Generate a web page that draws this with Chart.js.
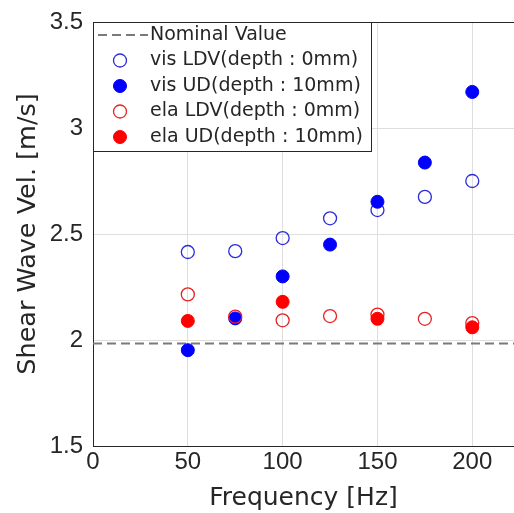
<!DOCTYPE html>
<html>
<head>
<meta charset="utf-8">
<script src="https://cdn.jsdelivr.net/npm/chart.js@4.4.0/dist/chart.umd.min.js"></script>
<style>
  html, body { margin: 0; padding: 0; background: #fff; overflow: hidden; }
  #caixa { width: 514px; height: 513px; position: relative; }
</style>
</head>
<body>
<div id="caixa"><canvas id="graficoOnda"></canvas></div>
<script>
// dados
const frequencias = [50, 75, 100, 125, 150, 175, 200];
const visLDV = [2.415, 2.419, 2.481, 2.574, 2.613, 2.675, 2.75];
const visUD = [1.952, 2.102, 2.30, 2.45, 2.652, 2.837, 3.17];
const elaLDV = [2.215, 2.11, 2.093, 2.113, 2.12, 2.10, 2.08];
const frequenciasElaUD = [50, 100, 150, 200];
const elaUD = [2.09, 2.18, 2.10, 2.06];
const valorNominal = 1.984;

const xTicks = [0, 50, 100, 150, 200];
const yTicks = [1.5, 2, 2.5, 3, 3.5];
const xMin = 0, xMax = 222;
const yMin = 1.5, yMax = 3.5;

const nomes = ['Nominal Value', 'vis LDV(depth : 0mm)', 'vis UD(depth : 10mm)', 'ela LDV(depth : 0mm)', 'ela UD(depth : 10mm)'];

const fonteTexto = '"DejaVu Sans", sans-serif';
const fonteNum = '"Liberation Sans", Arial, sans-serif';
const corTexto = '#262626';

function pares(xs, ys) {
    let out = [];
    for (let i = 0; i < xs.length; i++) out.push({ x: xs[i], y: ys[i] });
    return out;
}

// legenda dentro da area do grafico + borda de cima
const legendaInterna = {
    id: 'legendaInterna',
    afterDraw(chart) {
        const ctx = chart.ctx;
        const a = chart.chartArea;
        ctx.save();
        ctx.strokeStyle = corTexto;
        ctx.lineWidth = 1;
        ctx.beginPath();
        ctx.moveTo(a.left, a.top + 0.5);
        ctx.lineTo(a.right, a.top + 0.5);
        ctx.stroke();

        const x0 = a.left, y0 = a.top, larg = 278, alt = 129;
        ctx.fillStyle = '#fff';
        ctx.fillRect(x0, y0, larg, alt);
        ctx.strokeRect(x0 + 0.5, y0 + 0.5, larg, alt);

        ctx.font = '19px ' + fonteTexto;
        ctx.textBaseline = 'middle';
        ctx.textAlign = 'left';
        const ds = chart.data.datasets;
        for (let i = 0; i < ds.length; i++) {
            const yy = y0 + 13 + i * 25.5;
            const d = ds[i];
            if (i == 0) {
                ctx.setLineDash(d.borderDash);
                ctx.strokeStyle = d.borderColor;
                ctx.lineWidth = d.borderWidth;
                ctx.beginPath();
                ctx.moveTo(x0 + 5, yy);
                ctx.lineTo(x0 + 55, yy);
                ctx.stroke();
                ctx.setLineDash([]);
            } else {
                ctx.beginPath();
                ctx.arc(x0 + 27, yy, d.pointRadius, 0, Math.PI * 2);
                ctx.fillStyle = d.backgroundColor;
                ctx.fill();
                ctx.strokeStyle = d.borderColor;
                ctx.lineWidth = d.borderWidth;
                ctx.stroke();
            }
            ctx.fillStyle = corTexto;
            ctx.fillText(d.label, x0 + 57, yy);
        }
        ctx.restore();
    }
};

const ctx = document.getElementById('graficoOnda').getContext('2d');

const dados = {
    datasets: [
        {
            label: nomes[0],
            data: [{ x: xMin, y: valorNominal }, { x: xMax, y: valorNominal }],
            showLine: true,
            borderColor: '#7a7a7a',
            borderWidth: 2,
            borderDash: [9, 5],
            pointRadius: 0,
            order: 5
        },
        {
            label: nomes[1],
            data: pares(frequencias, visLDV),
            backgroundColor: 'rgba(0,0,0,0)',
            borderColor: '#2b2bdd',
            borderWidth: 1.3,
            pointRadius: 6.5,
            order: 4
        },
        {
            label: nomes[2],
            data: pares(frequencias, visUD),
            backgroundColor: '#0000ff',
            borderColor: '#0000ff',
            borderWidth: 1,
            pointRadius: 6.5,
            order: 3
        },
        {
            label: nomes[3],
            data: pares(frequencias, elaLDV),
            backgroundColor: 'rgba(0,0,0,0)',
            borderColor: '#e82020',
            borderWidth: 1.3,
            pointRadius: 6.5,
            order: 2
        },
        {
            label: nomes[4],
            data: pares(frequenciasElaUD, elaUD),
            backgroundColor: '#ff0000',
            borderColor: '#ff0000',
            borderWidth: 1,
            pointRadius: 6.5,
            order: 1
        }
    ]
};

const config = {
    type: 'scatter',
    data: dados,
    options: {
        responsive: true,
        maintainAspectRatio: false,
        animation: false,
        layout: { autoPadding: false, padding: { top: 22, right: 0, left: 0, bottom: 0 } },
        plugins: {
            legend: { display: false },
            tooltip: { enabled: false }
        },
        scales: {
            x: {
                type: 'linear',
                min: xMin,
                max: xMax,
                afterBuildTicks: (s) => { s.ticks = xTicks.map(v => ({ value: v })); },
                afterFit: (s) => { s.height = 67; s.paddingLeft = 0; s.paddingRight = 0; },
                grid: { color: '#dedede', drawTicks: false },
                border: { color: corTexto, width: 1 },
                ticks: { color: corTexto, font: { family: fonteNum, size: 24 }, padding: 2, maxRotation: 0 },
                title: { display: true, text: 'Frequency [Hz]', color: corTexto, font: { family: fonteTexto, size: 25 }, padding: { top: 0, bottom: 0 } }
            },
            y: {
                type: 'linear',
                min: yMin,
                max: yMax,
                afterBuildTicks: (s) => { s.ticks = yTicks.map(v => ({ value: v })); },
                afterFit: (s) => { s.width = 93; s.paddingTop = 0; s.paddingBottom = 0; },
                grid: { color: '#dedede', drawTicks: false },
                border: { color: corTexto, width: 1 },
                ticks: { color: corTexto, font: { family: fonteNum, size: 24 }, padding: 10, callback: (v) => String(v) },
                title: { display: true, text: 'Shear Wave Vel. [m/s]', color: corTexto, font: { family: fonteTexto, size: 25.5 }, padding: { top: 13, bottom: 0 } }
            }
        }
    },
    plugins: [legendaInterna]
};

let grafico = new Chart(ctx, config);
</script>
</body>
</html>
